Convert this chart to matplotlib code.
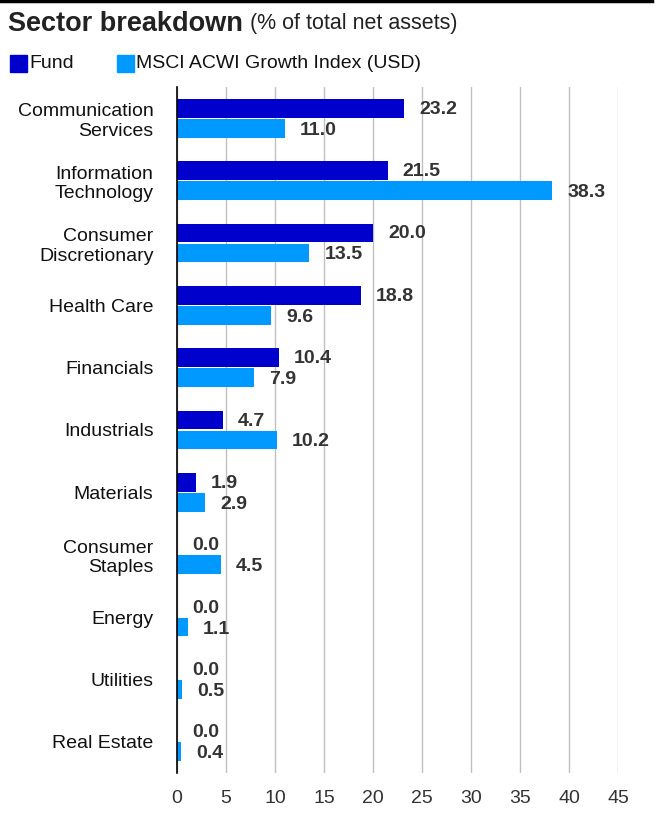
import matplotlib.pyplot as plt
import matplotlib.patches as mpatches
import numpy as np

plt.rcParams['font.family'] = ['Liberation Sans', 'DejaVu Sans']

sectors = ['Communication\nServices', 'Information\nTechnology', 'Consumer\nDiscretionary',
           'Health Care', 'Financials', 'Industrials', 'Materials', 'Consumer\nStaples',
           'Energy', 'Utilities', 'Real Estate']
fund = [23.2, 21.5, 20.0, 18.8, 10.4, 4.7, 1.9, 0.0, 0.0, 0.0, 0.0]
index = [11.0, 38.3, 13.5, 9.6, 7.9, 10.2, 2.9, 4.5, 1.1, 0.5, 0.4]
series_names = ['Fund', 'MSCI ACWI Growth Index (USD)']
colors = ['#0000CC', '#0099FF']
xticks = [0, 5, 10, 15, 20, 25, 30, 35, 40, 45]


def main():
    fig = plt.figure(figsize=(6.63, 8.23), dpi=100)
    ax = fig.add_axes([177 / 663, 1 - 773 / 823, 441 / 663, 686 / 823])

    y = np.arange(len(sectors))
    h = 0.30
    off = 0.16
    ax.barh(y - off, fund, height=h, color=colors[0], zorder=3)
    ax.barh(y + off, index, height=h, color=colors[1], zorder=3)

    for i in range(len(sectors)):
        ax.annotate(f'{fund[i]:.1f}', (fund[i], y[i] - off), xytext=(15, -1),
                    textcoords='offset pixels', va='center', ha='left',
                    fontsize=14, fontweight='bold', color='#333333')
        ax.annotate(f'{index[i]:.1f}', (index[i], y[i] + off), xytext=(15, -2),
                    textcoords='offset pixels', va='center', ha='left',
                    fontsize=14, fontweight='bold', color='#333333')

    ax.set_ylim(len(sectors) - 0.5, -0.5)
    ax.set_xlim(0, 45)
    ax.set_yticks(y)
    ax.set_yticklabels(sectors, fontsize=14, linespacing=1.2, color='#111111')
    ax.set_xticks(xticks)
    ax.set_xticklabels([str(t) for t in xticks], fontsize=14, color='#333333')
    ax.tick_params(axis='y', length=0, pad=17)
    ax.tick_params(axis='x', length=0, pad=12)
    ax.grid(axis='x', color='#C0C0C0', linewidth=1, zorder=0)
    for s in ['top', 'right', 'bottom']:
        ax.spines[s].set_visible(False)
    ax.spines['left'].set_color('black')
    ax.spines['left'].set_linewidth(1.2)
    ax.spines['left'].set_zorder(4)

    # top rule, title and legend
    fig.add_artist(plt.Line2D([0, 652 / 663], [1 - 1 / 823, 1 - 1 / 823],
                              color='black', linewidth=2.5, transform=fig.transFigure))
    fig.text(8 / 663, 1 - 24 / 823, 'Sector breakdown', fontsize=19.5, fontweight='bold',
             color='#222222', va='center', ha='left')
    fig.text(250 / 663, 1 - 24 / 823, '(% of total net assets)', fontsize=15.5,
             color='#222222', va='center', ha='left')

    leg_x = [10, 117]
    for k in range(2):
        fig.add_artist(mpatches.Rectangle((leg_x[k] / 663, 1 - 72 / 823), 17 / 663, 17 / 823,
                                          color=colors[k], transform=fig.transFigure))
        fig.text((leg_x[k] + 19) / 663, 1 - 64 / 823, series_names[k], fontsize=14,
                 color='#111111', va='center', ha='left')

    fig.savefig('out.png', dpi=100)


if __name__ == '__main__':
    main()
